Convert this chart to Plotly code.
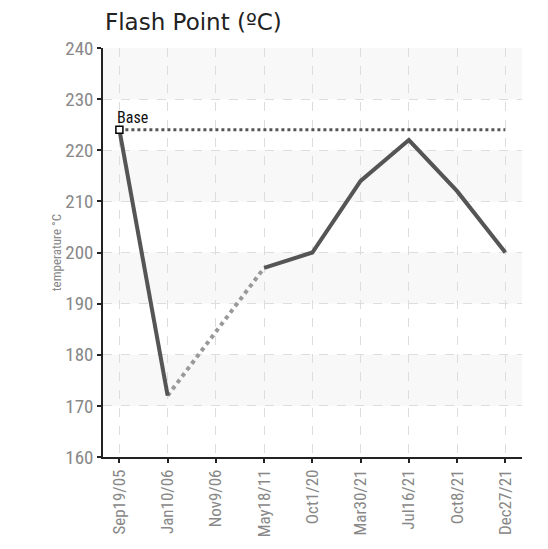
import plotly.graph_objects as go

categories = ["Sep19/05", "Jan10/06", "Nov9/06", "May18/11", "Oct1/20",
              "Mar30/21", "Jul16/21", "Oct8/21", "Dec27/21"]
values = [224, 172, None, 197, 200, 214, 222, 212, 200]
base_value = 224
y_ticks = [160, 170, 180, 190, 200, 210, 220, 230, 240]
shaded_bands = [(170, 180), (190, 200), (210, 220), (230, 240)]

NARROW = "Liberation Sans Narrow, Roboto Condensed, Arial Narrow, sans-serif"

fig = go.Figure()

# gap connectors (dashed grey) across missing values
idx = [i for i, v in enumerate(values) if v is not None]
for a, b in zip(idx[:-1], idx[1:]):
    if b - a > 1:
        fig.add_trace(go.Scatter(
            x=[categories[a], categories[b]], y=[values[a], values[b]],
            mode="lines", line=dict(color="#999999", width=4, dash="dot"),
            hoverinfo="skip", showlegend=False))

# base line
fig.add_trace(go.Scatter(
    x=categories, y=[base_value] * len(categories), mode="lines",
    line=dict(color="#555555", width=3, dash="dot"),
    showlegend=False, hoverinfo="skip"))

# main series
fig.add_trace(go.Scatter(
    x=categories, y=values, mode="lines",
    line=dict(color="#555555", width=4), connectgaps=False,
    showlegend=False))

# base marker
fig.add_trace(go.Scatter(
    x=[categories[0]], y=[base_value], mode="markers",
    marker=dict(symbol="square", size=7, color="white",
                line=dict(color="black", width=1.5)),
    showlegend=False, hoverinfo="skip"))

shapes = []
for y0, y1 in shaded_bands:
    shapes.append(dict(type="rect", xref="paper", yref="y", x0=0, x1=1,
                       y0=y0, y1=y1, fillcolor="#f8f8f8", line=dict(width=0),
                       layer="below"))

W, H = 540, 541
fig.update_layout(
    width=W, height=H,
    margin=dict(l=95, r=26, t=40, b=86),
    paper_bgcolor="white", plot_bgcolor="white",
    title=dict(text="Flash Point (ºC)", x=97 / W, xanchor="left",
               y=1 - 14 / H, yanchor="middle",
               font=dict(family="DejaVu Sans", size=23, color="#222222")),
    shapes=shapes,
    annotations=[dict(x=categories[0], y=base_value, xref="x", yref="y",
                      text="Base", showarrow=False, xanchor="left",
                      yanchor="bottom", xshift=-4, yshift=1,
                      font=dict(family=NARROW, size=16, color="#111111"))],
    xaxis=dict(
        type="category", categoryorder="array", categoryarray=categories,
        range=[-0.34, 8.345], showline=True, linecolor="#222222", linewidth=1.5,
        ticks="outside", ticklen=4, tickcolor="#222222", tickwidth=1.5,
        tickangle=-90, tickfont=dict(family=NARROW, size=17, color="#888888"),
        showgrid=True, gridcolor="#dddddd", griddash="dash", gridwidth=1,
        zeroline=False, fixedrange=True),
    yaxis=dict(
        range=[160, 240], tickvals=y_ticks, showline=True, linecolor="#222222",
        linewidth=1.5, ticks="outside", ticklen=4, tickcolor="#222222",
        tickwidth=1.5, tickfont=dict(family=NARROW, size=19, color="#888888"),
        showgrid=True, gridcolor="#dddddd", griddash="dash", gridwidth=1,
        zeroline=False,
        title=dict(text="temperature °C", standoff=1,
                   font=dict(family=NARROW, size=13, color="#888888"))),
)

fig.write_html("out.html")
